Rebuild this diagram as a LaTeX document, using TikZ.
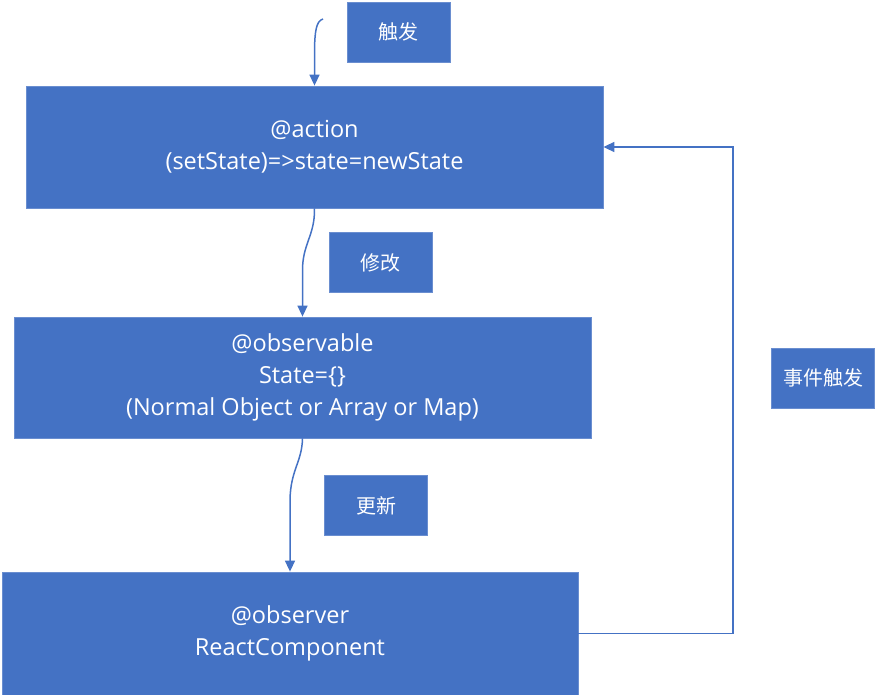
\documentclass[tikz,border=0pt]{standalone}
\usepackage{fontspec}
\setmainfont{Open Sans}
\newfontfamily\cjk{Noto Sans CJK SC}
\usetikzlibrary{arrows.meta}
\definecolor{boxblue}{HTML}{4472C4}
\definecolor{edgeblue}{HTML}{6A8ED0}
\tikzset{
  box/.style={fill=boxblue, draw=edgeblue, line width=0.8pt, text=white, inner sep=0pt, align=center, font=\fontsize{23.5}{32}\selectfont},
  tag/.style={fill=boxblue, draw=edgeblue, line width=0.8pt, text=white, inner sep=0pt, minimum width=103pt, minimum height=60pt, font=\cjk\fontsize{20}{22}\selectfont},
  link/.style={draw=boxblue, line width=1.5pt}
}
\begin{document}
\begin{tikzpicture}[x=1pt, y=-1pt, >={Triangle[length=11pt, width=10pt]}]
\useasboundingbox (0,0) rectangle (876,695);
\node[box, minimum width=577pt, minimum height=122pt](act) at (314.5,147){@action\\(setState)=>state=newState};
\node[box, minimum width=577pt, minimum height=121pt](obs) at (302.5,377.5){@observable\\State=\{\}\\(Normal Object or Array or Map)};
\node[box, minimum width=576pt, minimum height=123pt](obsr) at (290,633.5){@observer\\ReactComponent};
\node[tag](trig) at (398.5,32){触发};
\node[tag](edit) at (380.5,262.5){修改};
\node[tag](upd) at (376,505.5){更新};
\node[tag](evt) at (823,378){事件触发};
\coordinate (start) at (323,19);
\coordinate (turn) at (733,0);
\draw[link, ->](start) .. controls (316,21) and (315,32) .. (314.5,48) -- (act.north);
\draw[link, ->](act.south) .. controls (315,236) and (302,244) .. (302.5,272) -- (obs.north);
\draw[link, ->](obs.south) .. controls (302,462) and (290.5,470) .. (290,500) -- (obsr.north);
\draw[link, ->](obsr.east) -- (obsr.east -| turn) |- (act.east);

\end{tikzpicture}
\end{document}
